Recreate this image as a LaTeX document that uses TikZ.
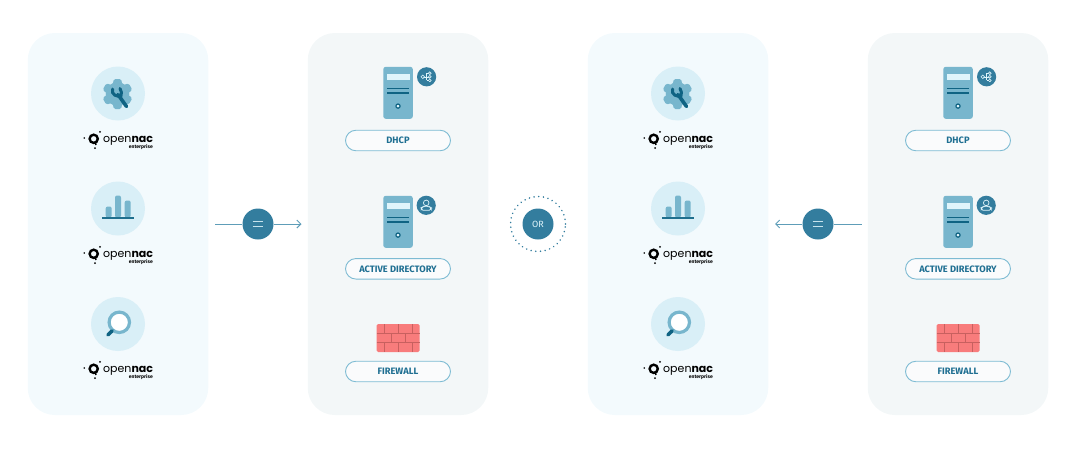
\documentclass[tikz,border=0pt]{standalone}
\usepackage{fontspec}
\setmainfont{Fira Sans}
\newfontfamily\logofont{Poppins}
\usetikzlibrary{arrows.meta}
\definecolor{panelblue}{HTML}{F3FAFD}
\definecolor{panelgrey}{HTML}{F3F7F8}
\definecolor{discblue}{HTML}{D9EFF7}
\definecolor{midblue}{HTML}{78B6CD}
\definecolor{deepblue}{HTML}{0F6383}
\definecolor{badgeblue}{HTML}{337D9E}
\definecolor{wireblue}{HTML}{5E9DB8}
\definecolor{pillline}{HTML}{7DBBD3}
\definecolor{pilltext}{HTML}{1F6F92}
\definecolor{screenblue}{HTML}{E0F5FB}
\definecolor{brick}{HTML}{F87C7C}
\definecolor{mortar}{HTML}{C8605F}
\tikzset{
  x=1pt,y=-1pt,
  panelbox/.style={rounded corners=27pt,minimum width=180.5pt,minimum height=382pt,inner sep=0pt,draw=none},
  pill/.style={draw=pillline,line width=0.9pt,fill=white!55!panelgrey,rounded corners=10.4pt,minimum width=105pt,minimum height=20.5pt,inner sep=0pt,text=pilltext,font=\fontsize{9.3}{10}\selectfont\bfseries},
  disc/.style={circle,fill=badgeblue,minimum size=31pt,inner sep=0pt,text=screenblue,font=\fontsize{9}{10}\selectfont},
  wire/.style={draw=wireblue,line width=1pt},
  wirearrow/.style={wire,-{Straight Barb[length=4pt,width=8pt,line width=1pt]}},
  pics/logo/.style={code={
    \draw[black,line width=2.4pt] (-24.3,0) circle (4.1);
    \fill[black] (-33.7,-0.8) circle (0.9);
    \fill[black] (-18,-7) circle (1);
    \fill[black] (-23,9.2) circle (1);
    \draw[black,line width=1.5pt] (-22.6,4) -- (-22,6.2);
    \node[anchor=base west,inner sep=0pt,text=black,font=\logofont\fontsize{11}{12}\selectfont] at (-15,3.9) {open\textbf{nac}};
    \node[anchor=base east,inner sep=0pt,text=black,font=\fontsize{5}{5}\selectfont\bfseries] at (35,9.8) {enterprise};
  }},
  pics/gearicon/.style={code={
    \fill[discblue] (0,0) circle (27);
    \begin{scope}[shift={(-0.5,0.5)}]
      \foreach \a in {30,90,...,330}
        \fill[midblue,rotate=\a,rounded corners=1.5pt] (9,-5) -- (15,-3.6) -- (15,3.6) -- (9,5) -- cycle;
      \fill[midblue] (0,0) circle (11.8);
    \end{scope}
    \draw[deepblue,line width=3.6pt,line cap=round] (0,1) -- (8.5,13);
    \draw[deepblue,line width=3pt,line cap=round] (-5.5,-4.5) .. controls (-7,1) and (-1,4) .. (3,2) .. controls (4.5,0) and (3,-2) .. (2,-5);
  }},
  pics/charticon/.style={code={
    \fill[discblue] (0,0) circle (27);
    \fill[midblue,rounded corners=2pt] (-12.3,9) rectangle (-6.3,-2);
    \fill[midblue,rounded corners=2pt] (-3,9) rectangle (3,-13);
    \fill[midblue,rounded corners=2pt] (6.7,9) rectangle (12.7,-8);
    \draw[deepblue!85!midblue,line width=1.2pt] (-16,9.5) -- (16,9.5);
  }},
  pics/lensicon/.style={code={
    \fill[discblue] (0,0) circle (27);
    \draw[midblue,line width=3.2pt,fill=white] (1.3,-1.7) circle (10.2);
    \draw[deepblue,line width=3.6pt,line cap=round] (-10,10.8) -- (-5.8,6.8);
  }},
  pics/servericon/.style={code={
    \fill[midblue,rounded corners=2.5pt] (0,0) rectangle (29.5,52);
    \fill[screenblue] (3.4,7.4) rectangle (26.2,13.6);
    \draw[deepblue,line width=1.2pt] (3.8,22) -- (25.8,22) (3.8,26.2) -- (25.8,26.2);
    \draw[deepblue,line width=1.2pt,fill=screenblue] (14.7,39.3) circle (2.1);
  }},
  pics/netbadge/.style={code={
    \fill[badgeblue] (0,0) circle (9.6);
    \draw[screenblue,line width=0.6pt] (-3.5,0) -- (3,0) (0,-3.6) -- (0,3.6) (0,-3.6) -- (3,-3.6) (0,3.6) -- (3,3.6);
    \draw[screenblue,line width=0.6pt,fill=badgeblue] (-3.8,0) circle (1.8) (3.2,-3.6) circle (1.4) (3.2,0) circle (1.4) (3.2,3.6) circle (1.4);
  }},
  pics/userbadge/.style={code={
    \fill[badgeblue] (0,0) circle (9.6);
    \draw[screenblue,line width=0.7pt] (0,-2.4) circle (2.8);
    \draw[screenblue,line width=0.7pt,rounded corners=1.8pt] (-5,5) -- (-5,2.4) -- (-2.6,1) -- (2.6,1) -- (5,2.4) -- (5,5) -- cycle;
  }},
  pics/wallicon/.style={code={
    \fill[brick,rounded corners=1.5pt] (0,0) rectangle (43,28);
    \draw[mortar,line width=0.9pt]
      (0,9.2) -- (43,9.2) (0,18.6) -- (43,18.6)
      (7.5,0) -- (7.5,9.2) (21.5,0) -- (21.5,9.2) (36,0) -- (36,9.2)
      (14.8,9.2) -- (14.8,18.6) (28.6,9.2) -- (28.6,18.6)
      (7.5,18.6) -- (7.5,28) (21.5,18.6) -- (21.5,28) (36,18.6) -- (36,28);
  }},
}
\begin{document}
\begin{tikzpicture}
\useasboundingbox (0,0) rectangle (1077,456);
\foreach \n/\cx in {a/118,b/678}{
  \node[panelbox,fill=panelblue] (panel\n) at (\cx,224) {};
  \pic at (\cx,93.5) {gearicon};
  \pic at (\cx,138.8) {logo};
  \pic at (\cx,208.5) {charticon};
  \pic at (\cx,253.8) {logo};
  \pic at (\cx,324) {lensicon};
  \pic at (\cx,368.8) {logo};
}
\foreach \n/\cx in {c/398,d/958}{
  \node[panelbox,fill=panelgrey] (panel\n) at (\cx,224) {};
  \pic at (\cx-14.7,66.8) {servericon};
  \pic at (\cx+28.6,76.8) {netbadge};
  \node[pill] (dhcp\n) at (\cx,140.5) {DHCP};
  \pic at (\cx-14.7,195.8) {servericon};
  \pic at (\cx+28.2,205.3) {userbadge};
  \node[pill] (ad\n) at (\cx,268.8) {ACTIVE DIRECTORY};
  \pic at (\cx-21.3,324) {wallicon};
  \node[pill] (fw\n) at (\cx,371.5) {FIREWALL};
}
\coordinate (ls) at (215,224);
\coordinate (le) at (301.5,224);
\coordinate (rs) at (861.5,224);
\coordinate (re) at (775,224);
\node[disc] (eql) at (258,224) {};
\node[disc] (eqr) at (818,224) {};
\draw[wire] (ls) -- (eql);
\draw[wirearrow] (eql) -- (le);
\draw[wire] (rs) -- (eqr);
\draw[wirearrow] (eqr) -- (re);
\foreach \e in {eql,eqr}{
  \draw[screenblue!85!badgeblue,line width=1.1pt] ([shift={(-5.3,-2.4)}]\e.center) -- ([shift={(5.3,-2.4)}]\e.center)
    ([shift={(-5.3,2.2)}]\e.center) -- ([shift={(5.3,2.2)}]\e.center);
}
\node[disc] (orn) at (538,224) {OR};
\node[circle,draw=badgeblue,line width=1.7pt,line cap=round,dash pattern=on 0.01pt off 4.7pt,minimum size=55pt,inner sep=0pt] (orring) at (538,224) {};
\end{tikzpicture}
\end{document}
